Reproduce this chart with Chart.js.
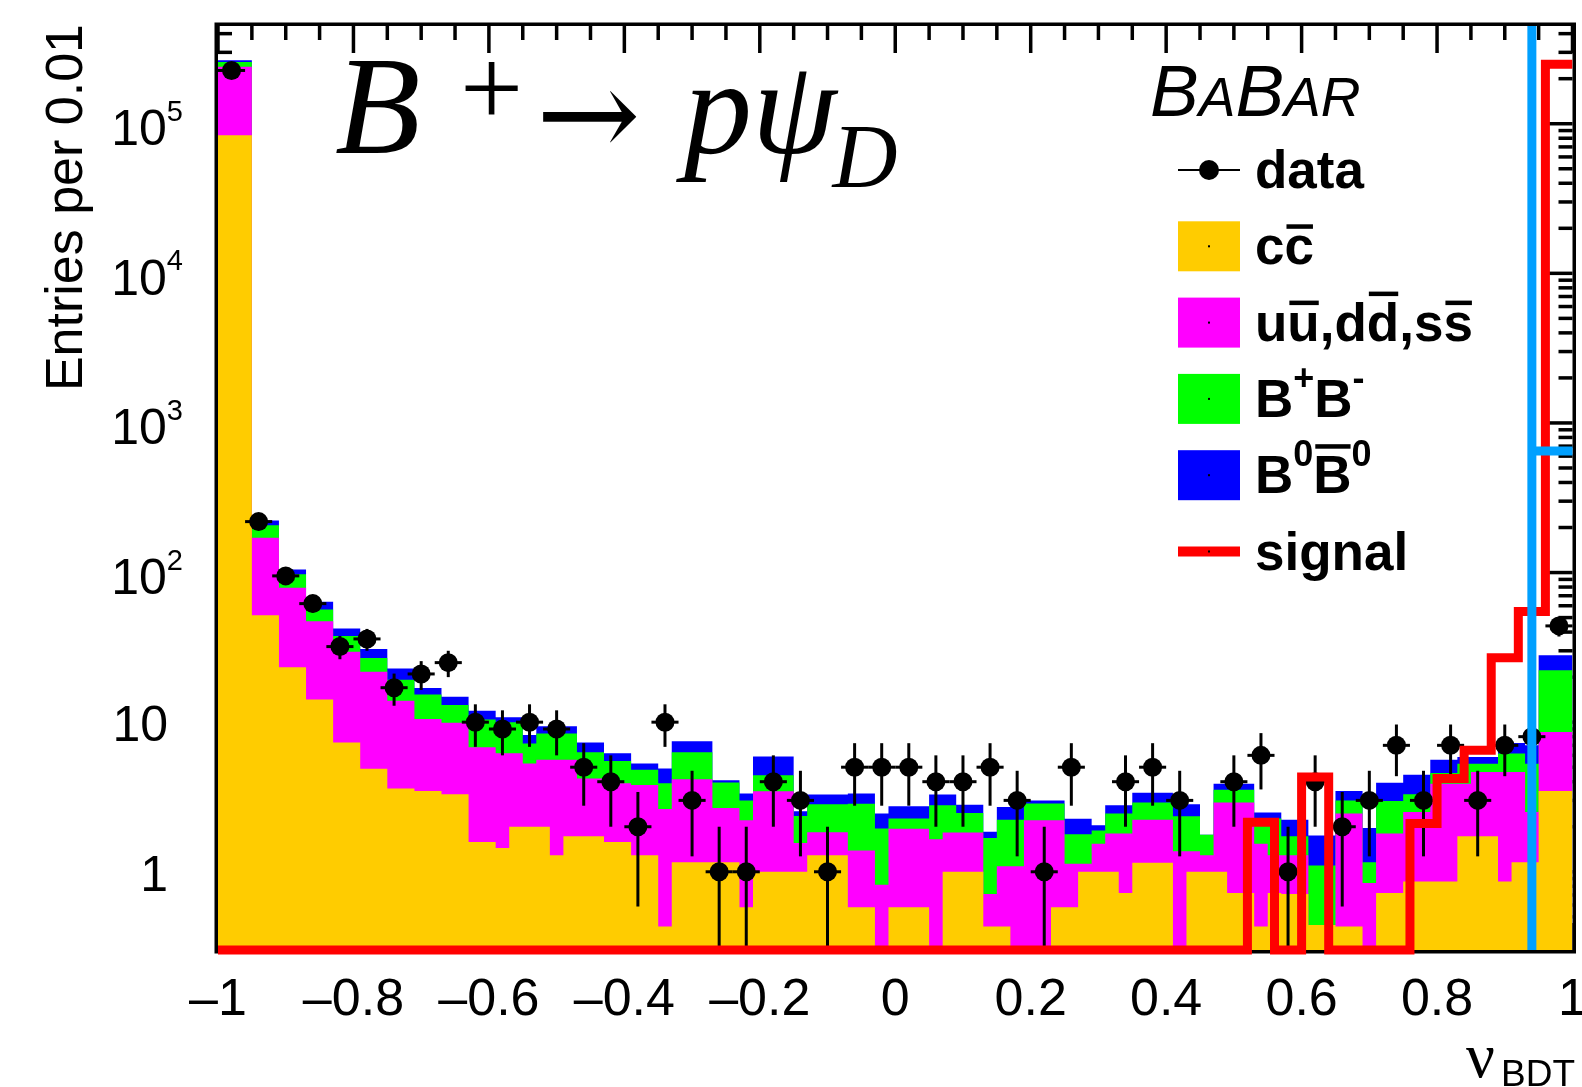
<!DOCTYPE html>
<html><head><meta charset="utf-8">
<script src="https://cdn.jsdelivr.net/npm/chart.js@4.4.1/dist/chart.umd.min.js"></script>
<style>html,body{margin:0;padding:0;background:#fff;overflow:hidden}canvas{display:block}</style>
</head><body>
<canvas id="c" width="1582" height="1087"></canvas>
<script>
// ------------------------------------------------------------------ values
// data: 50 bins of width 0.04 from -1 to 1
const dataLow = -1, dataWidth = 0.04;
const dataCounts = [227000, 219, 95, 62, 32, 36, 17, 21, 25, 10,
  9, 10, 9, 5, 4, 2, 10, 3, 1, 1,
  4, 3, 1, 5, 5, 5, 4, 4, 5, 3,
  1, 5, 0, 4, 5, 3, 0, 4, 6, 1,
  4, 2, 3, 7, 3, 7, 3, 7, 8, 44];
// signal expectation, same binning as data
const signalValues = [0,0,0,0,0,0,0,0,0,0, 0,0,0,0,0,0,0,0,0,0,
  0,0,0,0,0,0,0,0,0,0, 0,0,0,0,0,0,0,0,2.14,0,
  4.3,0,0,0,2.1,4.2,6.5,27,55,250000];
// simulated backgrounds: bin edges and per-component contents
const mcEdges = [-1, -0.95, -0.91, -0.87, -0.83, -0.79, -0.75, -0.71, -0.67, -0.63,
  -0.59, -0.57, -0.55, -0.53, -0.51, -0.49, -0.47, -0.43, -0.39, -0.35,
  -0.33, -0.27, -0.23, -0.21, -0.15, -0.13, -0.07, -0.03, -0.01, 0.05,
  0.07, 0.09, 0.13, 0.15, 0.17, 0.19, 0.23, 0.25, 0.27, 0.29,
  0.31, 0.33, 0.35, 0.41, 0.43, 0.45, 0.47, 0.49, 0.53, 0.55,
  0.57, 0.61, 0.65, 0.69, 0.71, 0.75, 0.79, 0.83, 0.85, 0.89,
  0.91, 0.93, 0.95, 1.0];
const ccValues = [83800, 51.9, 23.3, 14.2, 7.3, 4.89, 3.6, 3.47, 3.3, 1.58,
  1.44, 2.0, 2.0, 2.0, 1.29, 1.73, 1.73, 1.58, 1.29, 0.43,
  1.16, 1.16, 0.58, 1.0, 1.0, 1.29, 0.58, 0, 0.58, 0,
  1.0, 1.0, 0.43, 0.43, 0, 0, 0.58, 0.58, 1.0, 1.0,
  1.0, 0.72, 1.15, 0, 1.0, 1.0, 1.0, 0.72, 0.43, 0.72,
  0.71, 0.44, 0.43, 0, 0.72, 0.86, 0.86, 1.73, 1.73, 0.86,
  1.16, 1.16, 3.47];
const udsValues = [156200, 119.1, 55.7, 33, 22.2, 16.8, 10.3, 7.03, 6.6, 5.22,
  4.76, 4.2, 3.3, 3.6, 4.31, 3.87, 2.47, 2.32, 2.51, 2.2,
  2.99, 1.51, 1.63, 2.45, 0.56, 0.55, 0.81, 0.82, 1.36, 1.65,
  0.83, 0.83, 0.28, 0.66, 1.09, 2.21, 1.63, 0.55, 0.13, 0.54,
  0.8, 1.08, 1.08, 1.37, 0.37, 0.29, 1.9, 2.18, 1.11, 0.57,
  0.58, 0, 2.02, 0.84, 1.08, 1.65, 3.02, 2.15, 2.92, 3.79,
  3.49, 1.35, 5.13];
const bpbmValues = [19000, 36, 18.5, 9.4, 8.2, 5.2, 5.3, 4.8, 3.1, 3.6,
  3.8, 3.8, 1.9, 2.8, 2.8, 2.8, 2.1, 1.6, 1.0, 1.27,
  2.15, 1.28, 0.79, 0.97, 0.8, 0.99, 1.46, 1.13, 0.33, 1.13,
  0.95, 0.64, 0.97, 1.14, 1.14, 0.65, 0.65, 0.65, 0.65, 0.35,
  0.65, 0.65, 0.67, 0.98, 0.98, 0.48, 0.64, 0.64, 0.73, 0.98,
  0.44, 0.66, 0.55, 0.32, 1.17, 0.79, 0.7, 1.4, 0.63, 1.52,
  1.52, 2.77, 13.6];
const b0b0Values = [7000, 16, 7.5, 7.1, 4.5, 3.9, 3.6, 1.6, 1.8, 1.5,
  0.8, 0.8, 1.0, 1.0, 1.0, 1.0, 1.0, 0.7, 0.5, 1.0,
  1.15, 0.14, 0.33, 1.48, 0.18, 0.45, 0.48, 0.5, 0.47, 0.5,
  0.5, 0.34, 0.17, 0.48, 0.48, 0.14, 0.14, 0.48, 0.48, 0.16,
  0.33, 0.33, 0.47, 0.48, 0.48, 0, 0.34, 0.34, 0.22, 0.22,
  0.5, 0.65, 0.47, 0.8, 0.96, 1.16, 1.03, 0.58, 0.58, 1.09,
  1.09, 1.72, 5.8];
// selection cut on nu_BDT and the level of its marker
const cutValue = 0.94, cutLevel = 650;
// axes
const xRange = [-1, 1], yRange = [0.3, 4.5e5];
const xTickLabels = ['\u20131', '\u20130.8', '\u20130.6', '\u20130.4', '\u20130.2', '0', '0.2', '0.4', '0.6', '0.8', '1'];
const xTickValues = [-1, -0.8, -0.6, -0.4, -0.2, 0, 0.2, 0.4, 0.6, 0.8, 1];
const yTickValues = [1, 10, 100, 1000, 10000, 100000];
const yTickLabels = [['1', ''], ['10', ''], ['10', '2'], ['10', '3'], ['10', '4'], ['10', '5']];

// ------------------------------------------------------------------ helpers
const COL = { cc: '#ffcc00', uds: '#ff00ff', bpbm: '#00ff00', b0b0: '#0000ff', sig: '#ff0000', cut: '#00a0ff' };
const SANS = '"Liberation Sans", Arial, Helvetica, sans-serif';
const SERIF = '"Liberation Serif", "Times New Roman", serif';
const FLOOR = 0.01;

function stepPoints(edges, vals) {
  const pts = vals.map((v, i) => ({ x: edges[i], y: Math.max(v, FLOOR) }));
  pts.push({ x: edges[edges.length - 1], y: Math.max(vals[vals.length - 1], FLOOR) });
  return pts;
}
function cumulate(...arrs) {
  return arrs[0].map((_, i) => arrs.reduce((s, a) => s + a[i], 0));
}
const dataEdges = dataCounts.map((_, i) => dataLow + i * dataWidth).concat([dataLow + dataCounts.length * dataWidth]);

const topCC = cumulate(ccValues);
const topUDS = cumulate(ccValues, udsValues);
const topBPBM = cumulate(ccValues, udsValues, bpbmValues);
const topB0 = cumulate(ccValues, udsValues, bpbmValues, b0b0Values);

const dataPoints = dataCounts.map((n, i) => ({ x: dataLow + (i + 0.5) * dataWidth, y: n > 0 ? n : null }));
const signalPoints = signalValues.map((v, i) => ({ x: dataEdges[i], y: Math.max(v, yRange[0]) }))
  .concat([{ x: dataEdges[dataEdges.length - 1], y: Math.max(signalValues[signalValues.length - 1], yRange[0]) }]);

function fillSet(pts, color) {
  return { data: pts, stepped: 'before', fill: 'start', backgroundColor: color, borderColor: 'rgba(0,0,0,0)',
    borderWidth: 0, pointRadius: 0, tension: 0 };
}

const DATA_IDX = 3;

// ------------------------------------------------------------------ plugin: ROOT-like frame, ticks, labels, legend
function seg(ctx, x1, y1, x2, y2) { ctx.beginPath(); ctx.moveTo(x1, y1); ctx.lineTo(x2, y2); ctx.stroke(); }

const rootStyle = {
  id: 'rootStyle',
  beforeDatasetsDraw(chart) {
    const { ctx, chartArea: a, scales: { x, y } } = chart;
    ctx.save();
    ctx.strokeStyle = '#000'; ctx.lineCap = 'butt';
    ctx.lineWidth = 3.5;
    ctx.strokeRect(a.left - 1.75, a.top - 1.75, a.right - a.left + 3.5, a.bottom - a.top + 3.5);
    ctx.lineWidth = 3.5;
    for (let k = 0; k <= 40; k++) {
      const px = x.getPixelForValue(xRange[0] + k * 0.05);
      const len = (k % 4 === 0) ? 27 : 14;
      seg(ctx, px, a.top, px, a.top + len);
      seg(ctx, px, a.bottom, px, a.bottom - len);
    }
    for (let d = -1; d <= 5; d++) {
      for (let m = 1; m <= 9; m++) {
        const v = m * Math.pow(10, d);
        if (v < yRange[0] * 0.999 || v > yRange[1]) continue;
        const py = y.getPixelForValue(v);
        const len = (m === 1) ? 27 : 14;
        seg(ctx, a.left, py, a.left + len, py);
        seg(ctx, a.right, py, a.right - len, py);
      }
    }
    ctx.restore();
  },
  beforeDatasetDraw(chart, args) {
    if (args.index !== DATA_IDX) return;
    const { ctx, scales: { x, y }, chartArea: a } = chart;
    ctx.save();
    ctx.strokeStyle = '#000'; ctx.lineWidth = 3;
    dataCounts.forEach((n, i) => {
      if (n <= 0) return;
      const c = dataLow + (i + 0.5) * dataWidth;
      const px = x.getPixelForValue(c), py = y.getPixelForValue(n);
      const e = Math.sqrt(n);
      const lo = n - e > yRange[0] ? y.getPixelForValue(n - e) : a.bottom;
      const hi = y.getPixelForValue(n + e);
      seg(ctx, px, lo, px, hi);
      seg(ctx, x.getPixelForValue(c - dataWidth / 2), py, x.getPixelForValue(c + dataWidth / 2), py);
    });
    ctx.restore();
  },
  afterDraw(chart) {
    const { ctx, scales: { x, y }, chartArea: a } = chart;
    ctx.save();
    ctx.fillStyle = '#000';
    // x tick labels
    ctx.font = '52px ' + SANS; ctx.textAlign = 'center'; ctx.textBaseline = 'alphabetic';
    xTickValues.forEach((v, i) => ctx.fillText(xTickLabels[i], x.getPixelForValue(v), 1015));
    // y tick labels
    yTickValues.forEach((v, i) => {
      const [base, exp] = yTickLabels[i];
      const py = y.getPixelForValue(v);
      ctx.textAlign = 'left';
      if (exp) {
        ctx.font = '50px ' + SANS; const wb = ctx.measureText(base).width;
        ctx.font = '29px ' + SANS; const we = ctx.measureText(exp).width;
        const x0 = 183 - wb - we;
        ctx.font = '50px ' + SANS; ctx.fillText(base, x0, py + 21.5);
        ctx.font = '29px ' + SANS; ctx.fillText(exp, x0 + wb, py - 3);
      } else {
        ctx.font = '50px ' + SANS; ctx.textAlign = 'right';
        ctx.fillText(base, 168, py + 19);
      }
    });
    // y title
    ctx.save();
    ctx.translate(82, 24); ctx.rotate(-Math.PI / 2);
    ctx.font = '52px ' + SANS; ctx.textAlign = 'right';
    ctx.fillText('Entries per 0.01', 0, 0);
    ctx.restore();
    // x title
    ctx.textAlign = 'left';
    ctx.font = '64px ' + SERIF; ctx.fillText('\u03bd', 1466, 1077);
    ctx.font = '37px ' + SANS; ctx.fillText('BDT', 1501, 1086);
    // process title
    ctx.font = 'italic 140px ' + SERIF; ctx.fillText('B', 335, 153);
    ctx.font = '112px ' + SERIF; ctx.fillText('+', 460, 126);
    ctx.font = '125px "DejaVu Serif", ' + SERIF; ctx.fillText('\u2192', 536, 157);
    ctx.font = 'italic 136px ' + SERIF; ctx.fillText('p\u03c8', 684, 153);
    const wpp = ctx.measureText('p\u03c8').width;
    ctx.font = 'italic 90px ' + SERIF; ctx.fillText('D', 684 + wpp - 4, 187);
    // BaBar logo
    let bx = 1150;
    [['B', 73], ['A', 55], ['B', 73], ['A', 55], ['R', 55]].forEach(([ch, sz]) => {
      ctx.font = 'italic ' + sz + 'px ' + SANS; ctx.fillText(ch, bx, 116); bx += ctx.measureText(ch).width;
    });
    // legend
    const rowY = i => 170 + 76.3 * i;
    const sx0 = 1178, sx1 = 1240, tx = 1255;
    ctx.strokeStyle = '#000'; ctx.lineWidth = 2;
    seg(ctx, sx0, rowY(0), sx1, rowY(0));
    ctx.beginPath(); ctx.arc((sx0 + sx1) / 2, rowY(0), 10, 0, 2 * Math.PI); ctx.fill();
    const boxes = [COL.cc, COL.uds, COL.bpbm, COL.b0b0];
    boxes.forEach((c, k) => {
      const cy = rowY(k + 1);
      ctx.fillStyle = c; ctx.fillRect(sx0, cy - 25, sx1 - sx0, 50);
      ctx.fillStyle = '#000'; ctx.fillRect((sx0 + sx1) / 2 - 1, cy - 1, 2, 2);
    });
    ctx.strokeStyle = COL.sig; ctx.lineWidth = 10;
    seg(ctx, sx0, rowY(5), sx1, rowY(5));
    ctx.fillStyle = '#000'; ctx.fillRect((sx0 + sx1) / 2 - 1, rowY(5) - 1, 2, 2);
    const F = 'bold 53px ' + SANS, FS = 'bold 36px ' + SANS;
    function run(parts, x0, base) {
      let xx = x0;
      parts.forEach(p => {
        ctx.font = p.sup ? FS : F;
        const w = ctx.measureText(p.t).width;
        ctx.fillText(p.t, xx, base + (p.sup ? -27 : 0));
        if (p.bar) {
          ctx.fillRect(xx + 2, base - p.bar, w - 3 + (p.barExt || 0), 4.5);
        }
        xx += w;
      });
    }
    const b = i => rowY(i) + 18;
    run([{ t: 'data' }], tx, b(0));
    run([{ t: 'c' }, { t: 'c', bar: 40 }], tx, b(1));
    run([{ t: 'u' }, { t: 'u', bar: 40 }, { t: ',d' }, { t: 'd', bar: 49 }, { t: ',s' }, { t: 's', bar: 40 }], tx, b(2));
    run([{ t: 'B' }, { t: '+', sup: true }, { t: 'B' }, { t: '-', sup: true }], tx, b(3));
    run([{ t: 'B' }, { t: '0', sup: true }, { t: 'B', bar: 49 }, { t: '0', sup: true }], tx, b(4));
    run([{ t: 'signal' }], tx, b(5));
    ctx.restore();
  }
};

// ------------------------------------------------------------------ chart
new Chart(document.getElementById('c').getContext('2d'), {
  type: 'line',
  data: {
    datasets: [
      { data: [{ x: cutValue, y: yRange[0] }, { x: cutValue, y: yRange[1] }], borderColor: COL.cut, borderWidth: 9,
        pointRadius: 0, fill: false, clip: { left: 0, right: 0, top: 0, bottom: 6 } },
      { data: [{ x: cutValue, y: cutLevel }, { x: xRange[1], y: cutLevel }], borderColor: COL.cut, borderWidth: 9,
        pointRadius: 0, fill: false, clip: { left: 0, right: 5, top: 0, bottom: 0 } },
      { data: signalPoints, stepped: 'before', borderColor: COL.sig, borderWidth: 9, pointRadius: 0, fill: false,
        borderJoinStyle: 'miter', borderCapStyle: 'butt', clip: { left: 0, right: 0, top: 0, bottom: 6 } },
      { data: dataPoints, showLine: false, pointRadius: 9.5, pointBackgroundColor: '#000', pointBorderWidth: 0,
        pointBorderColor: '#000', fill: false },
      fillSet(stepPoints(mcEdges, topCC), COL.cc),
      fillSet(stepPoints(mcEdges, topUDS), COL.uds),
      fillSet(stepPoints(mcEdges, topBPBM), COL.bpbm),
      fillSet(stepPoints(mcEdges, topB0), COL.b0b0)
    ]
  },
  options: {
    responsive: false, animation: false, devicePixelRatio: 1,
    layout: { padding: { left: 218, right: 6, top: 26, bottom: 137 } },
    scales: {
      x: { type: 'linear', min: xRange[0], max: xRange[1], display: false },
      y: { type: 'logarithmic', min: yRange[0], max: yRange[1], display: false }
    },
    plugins: { legend: { display: false }, tooltip: { enabled: false } },
    events: []
  },
  plugins: [rootStyle]
});
</script>
</body></html>
